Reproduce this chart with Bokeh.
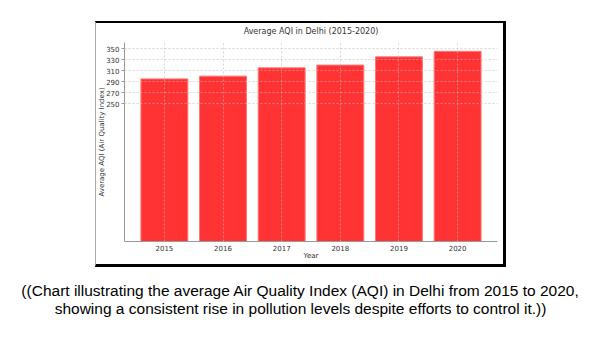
from bokeh.plotting import figure
from bokeh.layouts import column
from bokeh.models import FixedTicker, Range1d, ColumnDataSource, InlineStyleSheet
from bokeh.core.properties import value
from bokeh.embed import file_html
from bokeh.resources import INLINE

years = [2015, 2016, 2017, 2018, 2019, 2020]
aqi = [295, 300, 315, 320, 335, 345]
y_ticks = [250, 270, 290, 310, 330, 350]
title_text = "Average AQI in Delhi (2015-2020)"
x_label = "Year"
y_label = "Average AQI (Air Quality Index)"
caption_lines = [
    "((Chart illustrating the average Air Quality Index (AQI) in Delhi from 2015 to 2020,",
    "showing a consistent rise in pollution levels despite efforts to control it.))",
]

FL, FR, FT, FB = 124, 497, 42, 241  # frame edges in window pixels
W, H1, H2 = 600, 270, 60

p = figure(width=W, height=H1, output_backend="svg", toolbar_location=None,
           x_range=Range1d(2014.32, 2020.68), y_range=Range1d(0, 361),
           min_border_left=FL, min_border_right=W - FR,
           min_border_top=FT, min_border_bottom=H1 - FB)
p.frame_align = False
p.outline_line_color = None
p.background_fill_color = "white"
p.border_fill_color = "white"

src = ColumnDataSource(dict(x=years, top=aqi))
p.vbar(x="x", top="top", width=0.8, source=src, fill_color="#ff3333",
       line_color="#ff7777", line_width=1)

font = "DejaVu Sans"
p.title.text = title_text
p.title.align = "center"
p.title.text_font = font
p.title.text_font_size = "8px"
p.title.text_font_style = "normal"
p.title.text_color = "#333333"
p.title.standoff = 13

for ax in (p.xaxis[0], p.yaxis[0]):
    ax.axis_line_color = "#999999"
    ax.major_label_text_font = font
    ax.major_label_text_font_size = "7px"
    ax.major_label_text_color = "#333333"
    ax.axis_label_text_font = font
    ax.axis_label_text_font_size = "7px"
    ax.axis_label_text_font_style = "normal"
    ax.axis_label_text_color = "#333333"
    ax.minor_tick_line_color = None

p.xaxis.ticker = FixedTicker(ticks=years)
p.xaxis.axis_label = x_label
p.xaxis.major_tick_line_color = None
p.xaxis.major_tick_out = 0
p.xaxis.major_tick_in = 0
p.xaxis.major_label_standoff = 3
p.xaxis.axis_label_standoff = -2

p.yaxis.ticker = FixedTicker(ticks=y_ticks)
p.yaxis.axis_label = y_label
p.yaxis.major_tick_in = 0
p.yaxis.major_tick_out = 3
p.yaxis.major_tick_line_color = "#999999"
p.yaxis.major_label_standoff = 2
p.yaxis.axis_label_standoff = -3

for g in (p.xgrid[0], p.ygrid[0]):
    g.grid_line_color = "#bbbbbb"
    g.grid_line_alpha = 0.6
    g.grid_line_dash = "2 2"
    g.level = "overlay"

# caption figure (pixel-like coordinates, y downward)
c = figure(width=W, height=H2, output_backend="svg", toolbar_location=None,
           x_range=Range1d(0, W), y_range=Range1d(H2, 0),
           x_axis_location=None, y_axis_location=None,
           min_border=0, min_border_left=0, min_border_right=0,
           min_border_top=0, min_border_bottom=0)
c.frame_align = False
c.grid.visible = False
c.outline_line_color = None
c.background_fill_color = "white"
c.border_fill_color = "white"
cap_src = ColumnDataSource(dict(x=[W / 2, W / 2], y=[20, 38], text=caption_lines))
c.text(x="x", y="y", text="text", source=cap_src, text_align="center",
       text_baseline="middle", text_font=value("Liberation Sans"),
       text_font_size="15.5px", text_color="black")

# framed box around the chart (decoration drawn via CSS on the layout host)
box_css = """
:host { position: relative; }
:host::after {
  content: '';
  position: absolute;
  left: 95px; top: 21px; width: 407px; height: 241px;
  border-left: 1px solid #aaaaaa;
  border-top: 2px solid #000000;
  border-right: 3px solid #000000;
  border-bottom: 3px solid #000000;
  pointer-events: none;
  box-sizing: content-box;
  z-index: 10;
}
"""

layout = column(p, c, spacing=0)
layout.stylesheets = [InlineStyleSheet(css=box_css)]
open("out.html", "w").write(file_html(layout, INLINE))
